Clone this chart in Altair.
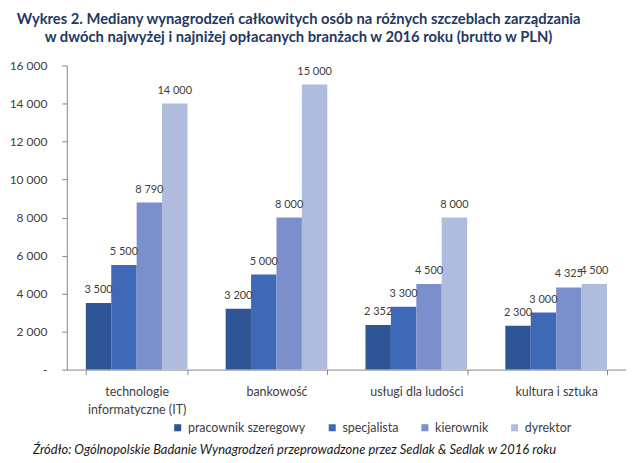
import altair as alt
import pandas as pd

categories = ["technologie informatyczne (IT)", "bankowość", "usługi dla ludości", "kultura i sztuka"]
levels = ["pracownik szeregowy", "specjalista", "kierownik", "dyrektor"]
pracownik = [3500, 3200, 2352, 2300]
specjalista = [5500, 5000, 3300, 3000]
kierownik = [8790, 8000, 4500, 4325]
dyrektor = [14000, 15000, 8000, 4500]
colors = ["#2f5597", "#3f68b6", "#7b8fcd", "#b0bcdd"]
y_ticks = [0, 2000, 4000, 6000, 8000, 10000, 12000, 14000, 16000]
title_lines = ["Wykres 2. Mediany wynagrodzeń całkowitych osób na różnych szczeblach zarządzania",
               "w dwóch najwyżej i najniżej opłacanych branżach w 2016 roku (brutto w PLN)"]
source = "Źródło: Ogólnopolskie Badanie Wynagrodzeń przeprowadzone przez Sedlak & Sedlak w 2016 roku"

rows = []
for i, c in enumerate(categories):
    for lvl, vals in zip(levels, [pracownik, specjalista, kierownik, dyrektor]):
        rows.append({"branza": c, "poziom": lvl, "wartosc": vals[i]})
df = pd.DataFrame(rows)

FONT = "Lato"
TXT = "#404040"

x_enc = alt.X("branza:N", sort=categories, title=None,
              scale=alt.Scale(paddingInner=0.273, paddingOuter=0.136),
              axis=alt.Axis(labelAngle=0, tickBand="extent", domainColor="#868686",
                            tickColor="#868686", tickSize=5, labelPadding=11,
                            labelFontSize=12.5, labelColor=TXT, labelFont=FONT,
                            labelLineHeight=18, labelOverlap=False,
                            labelExpr="datum.label == 'technologie informatyczne (IT)' ? ['technologie', 'informatyczne (IT)'] : datum.label"))
xo = alt.XOffset("poziom:N", sort=levels, scale=alt.Scale(paddingInner=0, paddingOuter=0))
y_enc = alt.Y("wartosc:Q", title=None,
              scale=alt.Scale(domain=[0, 16000], nice=False),
              axis=alt.Axis(values=y_ticks, grid=False, domainColor="#868686",
                            tickColor="#868686", tickSize=5, labelPadding=15,
                            labelOverlap=False,
                            labelFontSize=12, labelColor=TXT, labelFont=FONT,
                            labelExpr="datum.value == 0 ? '-' : replace(format(datum.value, ',d'), ',', ' ')"))

bars = alt.Chart(df).mark_bar().encode(
    x=x_enc,
    xOffset=xo,
    y=y_enc,
    color=alt.Color("poziom:N", sort=levels, scale=alt.Scale(domain=levels, range=colors),
                    legend=alt.Legend(title=None, orient="none", direction="horizontal",
                                      legendX=105, legendY=357, symbolType="square",
                                      symbolSize=50, symbolStrokeWidth=0, labelFontSize=12.5,
                                      labelColor=TXT, labelFont=FONT, columnPadding=20,
                                      labelOffset=4)),
)

labels = alt.Chart(df).mark_text(dy=-13, fontSize=11, color=TXT, font=FONT).encode(
    x=x_enc,
    xOffset=xo,
    y=y_enc,
    text=alt.Text("label:N"),
).transform_calculate(label="replace(format(datum.wartosc, ',d'), ',', ' ')")

src = alt.Chart(pd.DataFrame({"t": [source]})).mark_text(
    align="left", baseline="middle", fontSize=13, fontStyle="italic", color="#1a1a1a", font=FONT
).encode(x=alt.value(-34), y=alt.value(386), text="t:N")

chart = alt.layer(bars, labels, src).properties(
    width=561, height=305,
    padding={"left": 59, "top": 57, "right": 0, "bottom": 93},
    autosize=alt.AutoSizeParams(type="none"),
    title=alt.TitleParams(title_lines, anchor="middle", frame="group", font=FONT, fontSize=14.8,
                          fontWeight="bold", color="#1f3864", offset=15, lineHeight=18, dx=-48),
).configure_view(stroke=None)

chart.save("out.html", embed_options={"renderer": "svg", "actions": False})
